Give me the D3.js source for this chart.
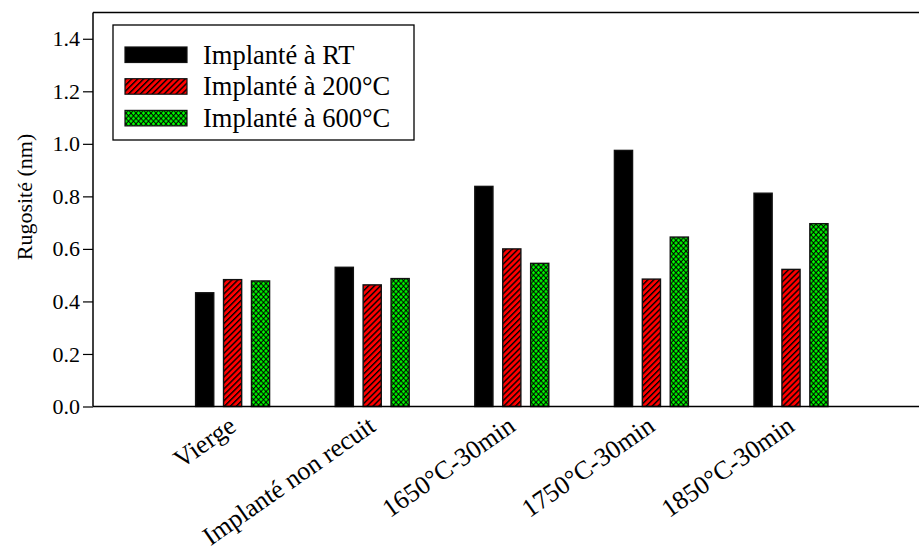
<!DOCTYPE html>
<html>
<head>
<meta charset="utf-8">
<script src="https://d3js.org/d3.v7.min.js"></script>
<style>
	body { margin: 0; background: #fff; }
</style>
</head>
<body>
<div id="chart"></div>
<script>
var categories = ['Vierge', 'Implanté non recuit', '1650°C-30min', '1750°C-30min', '1850°C-30min'];
var seriesNames = ['Implanté à RT', 'Implanté à 200°C', 'Implanté à 600°C'];
var rtValues = [0.433, 0.530, 0.838, 0.975, 0.812];
var t200Values = [0.483, 0.463, 0.600, 0.485, 0.522];
var t600Values = [0.478, 0.487, 0.545, 0.645, 0.696];
var yTicks = [0.0, 0.2, 0.4, 0.6, 0.8, 1.0, 1.2, 1.4];

var width = 919, height = 555;
var margin = { left: 93, top: 12.5, bottom: 148.5 };
var serif = '"Liberation Serif", "Times New Roman", serif';

function drawChart(divName) {
	let svg = d3.select('#' + divName).append('svg')
		.attr('width', width)
		.attr('height', height);

	let defs = svg.append('defs');

	// red with black diagonal hatch
	let hatch = defs.append('pattern')
		.attr('id', 'hatchRed')
		.attr('patternUnits', 'userSpaceOnUse')
		.attr('width', 4.2)
		.attr('height', 4.2)
		.attr('patternTransform', 'rotate(45)');
	hatch.append('rect').attr('width', 4.2).attr('height', 4.2).attr('fill', '#ff0000');
	hatch.append('rect').attr('width', 1.4).attr('height', 4.2).attr('fill', '#000');

	// black with green crosses
	let dots = defs.append('pattern')
		.attr('id', 'dotsGreen')
		.attr('patternUnits', 'userSpaceOnUse')
		.attr('width', 5)
		.attr('height', 5.4)
		.attr('x', 1);
	dots.append('rect').attr('width', 5).attr('height', 5.4).attr('fill', '#000');
	[[0, 0], [2.5, 2.7], [5, 0], [0, 5.4], [5, 5.4]].forEach(function (p) {
		dots.append('rect').attr('x', p[0] - 1.6).attr('y', p[1] - 0.7).attr('width', 3.2).attr('height', 1.4).attr('fill', '#00ff00');
		dots.append('rect').attr('x', p[0] - 0.7).attr('y', p[1] - 1.6).attr('width', 1.4).attr('height', 3.2).attr('fill', '#00ff00');
	});

	let fills = ['#000', 'url(#hatchRed)', 'url(#dotsGreen)'];
	let series = [rtValues, t200Values, t600Values];

	let x = d3.scaleLinear().domain([0, categories.length + 1]).range([margin.left, 930.6]);
	let y = d3.scaleLinear().domain([0, 1.5]).range([height - margin.bottom, margin.top]);

	let offset = 0.2, barW = 0.13;

	for (let s = 0; s < series.length; ++s) {
		svg.append('g').selectAll('rect')
			.data(series[s])
			.enter().append('rect')
			.attr('x', (d, i) => x(i + 1 + (s - 1) * offset - barW / 2))
			.attr('width', x(barW) - x(0))
			.attr('y', d => y(d))
			.attr('height', d => y(0) - y(d))
			.attr('fill', fills[s])
			.attr('stroke', '#111')
			.attr('stroke-width', 1.4);
	}

	// frame: top line and x baseline
	svg.append('line')
		.attr('x1', margin.left).attr('x2', width)
		.attr('y1', margin.top).attr('y2', margin.top)
		.attr('stroke', '#000').attr('stroke-width', 1.5);
	svg.append('line')
		.attr('x1', margin.left).attr('x2', width)
		.attr('y1', y(0)).attr('y2', y(0))
		.attr('stroke', '#000').attr('stroke-width', 1.5);

	let yAxis = svg.append('g')
		.attr('transform', 'translate(' + margin.left + ',0)')
		.attr('font-family', serif)
		.call(d3.axisLeft(y).tickValues(yTicks).tickFormat(d3.format('.1f')).tickSize(10).tickPadding(3));
	yAxis.attr('font-family', serif).attr('font-size', 22);
	yAxis.select('.domain')
		.attr('d', 'M0,' + margin.top + 'V' + y(0))
		.attr('stroke-width', 1.5);
	yAxis.selectAll('.tick line').attr('stroke-width', 1.2);
	yAxis.selectAll('.tick text')
		.style('font-family', serif)
		.style('font-size', '22px')
		.attr('fill', '#000');

	svg.append('text')
		.attr('transform', 'translate(32,' + 197 + ') rotate(-90)')
		.attr('text-anchor', 'middle')
		.style('font-family', serif)
		.style('font-size', '22px')
		.text('Rugosité (nm)');

	// category labels, rotated
	svg.append('g').selectAll('text')
		.data(categories)
		.enter().append('text')
		.attr('transform', (d, i) => 'translate(' + (x(i + 1) + 5) + ',' + (y(0) + 23) + ') rotate(-35)')
		.attr('text-anchor', 'end')
		.style('font-family', serif)
		.style('font-size', '26px')
		.text(d => d);

	// legend
	let legend = svg.append('g');
	legend.append('rect')
		.attr('x', 113).attr('y', 25)
		.attr('width', 301).attr('height', 115)
		.attr('fill', '#fff').attr('stroke', '#000').attr('stroke-width', 1.3);
	let rows = legend.selectAll('g.row')
		.data(seriesNames)
		.enter().append('g')
		.attr('class', 'row')
		.attr('transform', (d, i) => 'translate(125,' + (47 + i * 31.7) + ')');
	rows.append('rect')
		.attr('width', 62).attr('height', 15.5)
		.attr('fill', (d, i) => fills[i])
		.attr('stroke', '#111').attr('stroke-width', 1.2);
	rows.append('text')
		.attr('x', 78).attr('y', 16.5)
		.style('font-family', serif)
		.style('font-size', '26.5px')
		.text(d => d);
}

drawChart('chart');
</script>
</body>
</html>
